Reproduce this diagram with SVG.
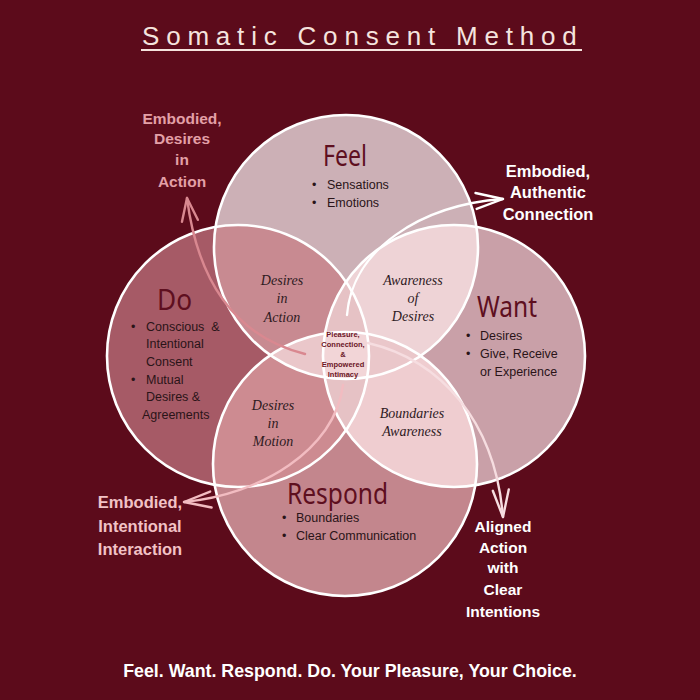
<svg xmlns="http://www.w3.org/2000/svg" width="700" height="700" viewBox="0 0 700 700">
<style>
.bg{fill:#5c0b1b}
.ring{fill:none;stroke:#ffffff;stroke-width:2.6}
.head{font-family:"Noto Sans","Lato","DejaVu Sans",sans-serif;font-weight:400;font-size:29px;fill:#5e0f1f}
.bul{font-family:"Liberation Sans",Arial,sans-serif;font-size:12.5px;fill:#2a1418}
.lens{font-family:"Liberation Serif","Times New Roman",serif;font-style:italic;font-size:14px;fill:#2e1a1e;text-anchor:middle}
.core{font-family:"Liberation Sans",Arial,sans-serif;font-weight:bold;font-size:7.5px;fill:#6b1526;text-anchor:middle}
.lab{font-family:"Liberation Sans",Arial,sans-serif;font-weight:bold;text-anchor:middle}
.arrow{fill:none;stroke-width:2.4;stroke-linecap:round}
</style>
<defs>
<clipPath id="cF"><circle cx="346" cy="247" r="132"/></clipPath>
<clipPath id="cD"><circle cx="238" cy="356" r="131"/></clipPath>
<clipPath id="cW"><circle cx="454" cy="356" r="131"/></clipPath>
<clipPath id="cR"><circle cx="345" cy="464" r="132"/></clipPath>
<marker id="mPink" viewBox="-26 -10 28 20" refX="0" refY="0" markerWidth="28" markerHeight="20" markerUnits="userSpaceOnUse" orient="auto"><path d="M-23,-8 L0,0 L-23,8" fill="none" stroke="#d98890" stroke-width="2.4" stroke-linecap="round" stroke-linejoin="round"/></marker>
<marker id="mWhite" viewBox="-30 -10 32 20" refX="0" refY="0" markerWidth="32" markerHeight="20" markerUnits="userSpaceOnUse" orient="auto"><path d="M-27,-8 L0,0 L-27,8" fill="none" stroke="#ffffff" stroke-width="2.4" stroke-linecap="round" stroke-linejoin="round"/></marker>
<marker id="mLight" viewBox="-30 -10 32 20" refX="0" refY="0" markerWidth="32" markerHeight="20" markerUnits="userSpaceOnUse" orient="auto"><path d="M-27,-8 L0,0 L-27,8" fill="none" stroke="#f6dde0" stroke-width="2.4" stroke-linecap="round" stroke-linejoin="round"/></marker>
<marker id="mRose" viewBox="-30 -10 32 20" refX="0" refY="0" markerWidth="32" markerHeight="20" markerUnits="userSpaceOnUse" orient="auto"><path d="M-27,-8 L0,0 L-27,8" fill="none" stroke="#f2bcc1" stroke-width="2.4" stroke-linecap="round" stroke-linejoin="round"/></marker>
</defs>
<rect class="bg" x="0" y="0" width="700" height="700"/>
<g id="title">
<text x="142" y="45" font-family="'Liberation Sans',Arial,sans-serif" font-size="26" letter-spacing="6.8" fill="#f5e4de">Somatic Consent Method</text>
<line x1="141" y1="50" x2="582" y2="50" stroke="#f5e4de" stroke-width="2"/>
</g>
<g id="fills">
<circle cx="346" cy="247" r="132" fill="#ccb0b6"/>
<circle cx="238" cy="356" r="131" fill="#a65a66"/>
<circle cx="454" cy="356" r="131" fill="#c9a0a8"/>
<circle cx="345" cy="464" r="132" fill="#c3868d"/>
<g clip-path="url(#cF)"><circle cx="238" cy="356" r="131" fill="#c88a91"/></g>
<g clip-path="url(#cF)"><circle cx="454" cy="356" r="131" fill="#eed3d6"/></g>
<g clip-path="url(#cD)"><circle cx="345" cy="464" r="132" fill="#cd8b91"/></g>
<g clip-path="url(#cW)"><circle cx="345" cy="464" r="132" fill="#efcdd0"/></g>
<g clip-path="url(#cD)"><circle cx="454" cy="356" r="131" fill="#e6c2c5"/></g>
<g clip-path="url(#cF)"><circle cx="345" cy="464" r="132" fill="#eac7ca"/></g>
<g clip-path="url(#cF)"><g clip-path="url(#cD)"><g clip-path="url(#cW)"><circle cx="345" cy="464" r="132" fill="#f2d5d7"/></g></g></g>
</g>
<g id="node-feel">
<circle class="ring" cx="346" cy="247" r="132"/>
<text class="head" x="323" y="166" textLength="44" lengthAdjust="spacingAndGlyphs">Feel</text>
<text class="bul" x="312" y="189">•</text><text class="bul" x="327" y="189">Sensations</text>
<text class="bul" x="312" y="207">•</text><text class="bul" x="327" y="207">Emotions</text>
</g>
<g id="node-do">
<circle class="ring" cx="238" cy="356" r="131"/>
<text class="head" x="157" y="310" textLength="35" lengthAdjust="spacingAndGlyphs">Do</text>
<text class="bul" x="131" y="331">•</text><text class="bul" x="146" y="331" xml:space="preserve">Conscious  &amp;</text>
<text class="bul" x="146" y="348">Intentional</text>
<text class="bul" x="146" y="366">Consent</text>
<text class="bul" x="131" y="384">•</text><text class="bul" x="146" y="384">Mutual</text>
<text class="bul" x="146" y="401">Desires &amp;</text>
<text class="bul" x="142" y="419">Agreements</text>
</g>
<g id="node-want">
<circle class="ring" cx="454" cy="356" r="131"/>
<text class="head" x="477" y="317" textLength="60" lengthAdjust="spacingAndGlyphs">Want</text>
<text class="bul" x="466" y="340">•</text><text class="bul" x="480" y="340">Desires</text>
<text class="bul" x="466" y="358">•</text><text class="bul" x="480" y="358">Give, Receive</text>
<text class="bul" x="480" y="376">or Experience</text>
</g>
<g id="node-respond">
<circle class="ring" cx="345" cy="464" r="132"/>
<text class="head" x="287" y="504" textLength="101" lengthAdjust="spacingAndGlyphs">Respond</text>
<text class="bul" x="282" y="522">•</text><text class="bul" x="296" y="522">Boundaries</text>
<text class="bul" x="282" y="540">•</text><text class="bul" x="296" y="540">Clear Communication</text>
</g>
<g id="node-desires-in-action">
<text class="lens" x="282" y="285">Desires</text>
<text class="lens" x="282" y="303">in</text>
<text class="lens" x="282" y="322">Action</text>
</g>
<g id="node-awareness-of-desires">
<text class="lens" x="413" y="285">Awareness</text>
<text class="lens" x="413" y="303">of</text>
<text class="lens" x="413" y="321">Desires</text>
</g>
<g id="node-desires-in-motion">
<text class="lens" x="273" y="410">Desires</text>
<text class="lens" x="273" y="428">in</text>
<text class="lens" x="273" y="446">Motion</text>
</g>
<g id="node-boundaries-awareness">
<text class="lens" x="412" y="418">Boundaries</text>
<text class="lens" x="412" y="436">Awareness</text>
</g>
<g id="node-center">
<text class="core" x="343" y="337">Pleasure,</text>
<text class="core" x="343" y="346.5">Connection,</text>
<text class="core" x="343" y="356.5">&amp;</text>
<text class="core" x="343" y="366.5">Empowered</text>
<text class="core" x="343" y="377">Intimacy</text>
</g>
<g id="connectors">
<path class="arrow" d="M305,354 C250,340 200,300 187,198" stroke="#d98890" marker-end="url(#mPink)"/>
<path class="arrow" d="M347,315 C352,250 420,205 503,199" stroke="#ffffff" marker-end="url(#mWhite)"/>
<path class="arrow" d="M368,343 C440,360 495,420 503,517" stroke="#f6dde0" marker-end="url(#mLight)"/>
<path class="arrow" d="M343,385 C335,450 260,495 184,502" stroke="#f2bcc1" marker-end="url(#mRose)"/>
</g>
<g id="label-desires-action">
<text class="lab" x="182" y="124" font-size="15.5" fill="#e3a0a7">Embodied,</text>
<text class="lab" x="182" y="144" font-size="15.5" fill="#e3a0a7">Desires</text>
<text class="lab" x="182" y="165" font-size="15.5" fill="#e3a0a7">in</text>
<text class="lab" x="182" y="187" font-size="15.5" fill="#e3a0a7">Action</text>
</g>
<g id="label-authentic">
<text class="lab" x="548" y="177" font-size="16.5" fill="#ffffff">Embodied,</text>
<text class="lab" x="548" y="198" font-size="16.5" fill="#ffffff">Authentic</text>
<text class="lab" x="548" y="220" font-size="16.5" fill="#ffffff">Connection</text>
</g>
<g id="label-aligned">
<text class="lab" x="503" y="532" font-size="15.5" fill="#ffffff">Aligned</text>
<text class="lab" x="503" y="553" font-size="15.5" fill="#ffffff">Action</text>
<text class="lab" x="503" y="573" font-size="15.5" fill="#ffffff">with</text>
<text class="lab" x="503" y="595" font-size="15.5" fill="#ffffff">Clear</text>
<text class="lab" x="503" y="617" font-size="15.5" fill="#ffffff">Intentions</text>
</g>
<g id="label-intentional">
<text class="lab" x="140" y="508" font-size="16.5" fill="#f2c2c6">Embodied,</text>
<text class="lab" x="140" y="532" font-size="16.5" fill="#f2c2c6">Intentional</text>
<text class="lab" x="140" y="555" font-size="16.5" fill="#f2c2c6">Interaction</text>
</g>
<g id="footer">
<text class="lab" x="350" y="677" font-size="17.8" fill="#ffffff">Feel. Want. Respond. Do. Your Pleasure, Your Choice.</text>
</g>
</svg>
